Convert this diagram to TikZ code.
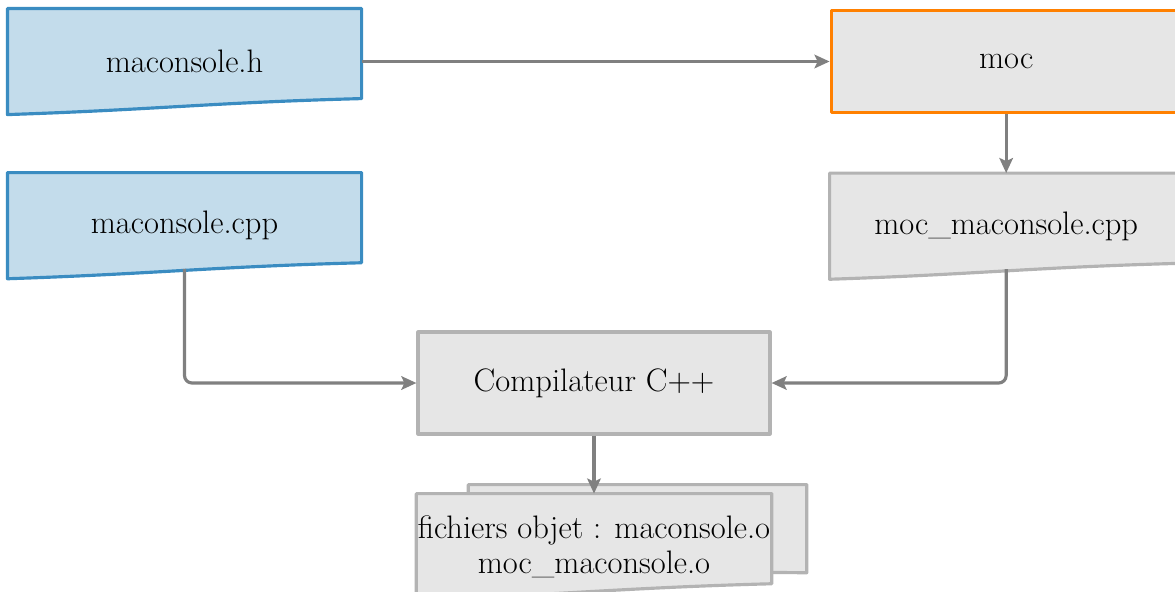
\documentclass[tikz,border=0pt]{standalone}
\usetikzlibrary{arrows.meta,positioning,calc,backgrounds}
\definecolor{docblue}{HTML}{C3DCEB}
\definecolor{lineblue}{HTML}{3A8CC1}
\definecolor{boxgray}{HTML}{E6E6E6}
\definecolor{linegray}{HTML}{B3B3B3}
\definecolor{mocorange}{HTML}{FF8000}
\definecolor{arrowgray}{HTML}{808080}
% outline of a file: flat top, wavy bottom
\newcommand{\docpath}[2]{%
  \path[line width=1.8pt,line join=round,#2] (#1.north west) -- (#1.north east) -- ([yshift=3.2mm]#1.south east)
    .. controls +(-3,-0.08) and +(3,0.1) .. (#1.south west) -- cycle;}

\begin{document}
\begin{tikzpicture}[every node/.style={font=\fontsize{18.5}{20}\selectfont},>={Stealth[length=3mm,width=2.7mm,inset=0.6mm]},line width=1.8pt,line join=round]
  \useasboundingbox (0,0) rectangle (23.5,11.82);
  \node[minimum width=7.02cm,minimum height=2.06cm] (h) at (3.69,10.59) {maconsole.h};
  \node[minimum width=7.02cm,minimum height=2.06cm,below=1.16cm of h] (cpp) {maconsole.cpp};
  \node[draw=mocorange,fill=boxgray,minimum width=7cm,minimum height=2.04cm,right=9.36cm of h] (moc) {moc};
  \node[minimum width=7cm,minimum height=2.06cm,below=1.18cm of moc] (mocpp) {moc\_maconsole.cpp};
  \node[draw=linegray,fill=boxgray,minimum width=7.04cm,minimum height=2.04cm] (comp) at (11.88,4.16) {Compilateur C++};
  \node[minimum width=7.04cm,minimum height=2.06cm,inner xsep=0pt,align=center,below=1.16cm of comp] (obj)
    {fichiers objet : maconsole.o\\moc\_maconsole.o};

  \begin{scope}[on background layer]
    \docpath{h}{draw=lineblue,fill=docblue}
    \docpath{cpp}{draw=lineblue,fill=docblue}
    \docpath{mocpp}{draw=linegray,fill=boxgray}
    \path[line width=1.8pt,line join=round,draw=linegray,fill=boxgray] ([shift={(1.04,0.18)}]obj.north west) -- ([shift={(0.7,0.18)}]obj.north east)
      -- ([shift={(0.7,0.54)}]obj.south east) -- ([shift={(1.04,0.6)}]obj.south west) -- cycle;
    \docpath{obj}{draw=linegray,fill=boxgray}
  \end{scope}

  \draw[->,arrowgray] (h) -- (moc);
  \draw[->,arrowgray] (moc) -- (mocpp);
  \draw[->,arrowgray,rounded corners=1.5mm] ([yshift=2mm]cpp.south) |- (comp);
  \draw[->,arrowgray,rounded corners=1.5mm] ([yshift=2mm]mocpp.south) |- (comp);
  \draw[->,arrowgray] (comp) -- (obj);
\end{tikzpicture}
\end{document}
